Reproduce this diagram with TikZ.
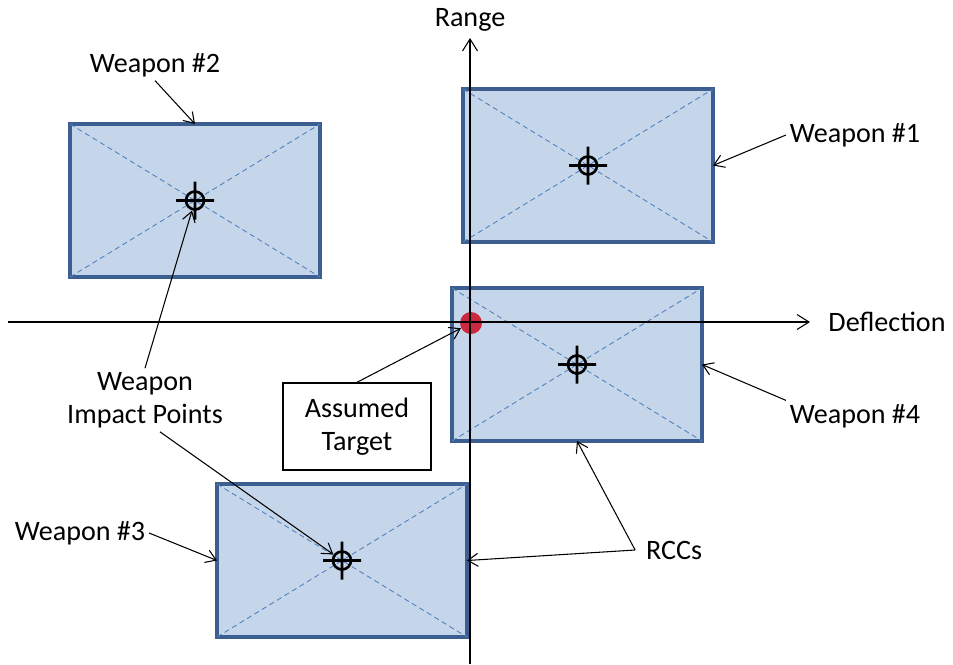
\documentclass[tikz,border=0pt]{standalone}
\usepackage{fontspec}
\setmainfont{Carlito}
\usetikzlibrary{arrows.meta, positioning}
\definecolor{rccfill}{RGB}{198,214,234}
\definecolor{rccline}{RGB}{60,94,144}
\definecolor{rccdiag}{RGB}{79,129,189}
\definecolor{tgtred}{RGB}{204,40,62}

\begin{document}
\begin{tikzpicture}[x=0.02cm, y=-0.02cm, font=\fontsize{16}{19}\selectfont,
  rcc/.style={rectangle, draw=rccline, fill=rccfill, line width=2pt, minimum width=5cm, minimum height=3.06cm, outer sep=0pt},
  diag/.style={draw=rccdiag, densely dashed, line width=0.5pt},
  xh/.style={line width=1.5pt},
  lbl/.style={align=center, inner sep=2pt},
  tbox/.style={rectangle, draw, line width=0.8pt, minimum width=2.96cm, minimum height=1.74cm, align=center},
  arr/.style={-{Straight Barb[length=2mm, width=2.6mm]}, line width=0.6pt},
  axis/.style={-{Straight Barb[length=2.4mm, width=3mm]}, line width=0.6pt}
]
\useasboundingbox (0,0) rectangle (953,664);
% the four weapon boxes
\node[rcc] (w1) at (588,165.5) {};
\node[rcc] (w2) at (195,200.5) {};
\node[rcc] (w4) at (577,364.5) {};
\node[rcc] (w3) at (342,560.5) {};
\draw[diag] (w1.north west) -- (w1.south east) (w1.south west) -- (w1.north east);
\draw[diag] (w2.north west) -- (w2.south east) (w2.south west) -- (w2.north east);
\draw[diag] (w4.north west) -- (w4.south east) (w4.south west) -- (w4.north east);
\draw[diag] (w3.north west) -- (w3.south east) (w3.south west) -- (w3.north east);
% impact points
\draw[xh] (w1.center) circle[radius=9] (w1.center) +(-19,0) -- +(19,0) (w1.center) +(0,-19) -- +(0,19);
\draw[xh] (w2.center) circle[radius=9] (w2.center) +(-19,0) -- +(19,0) (w2.center) +(0,-19) -- +(0,19);
\draw[xh] (w4.center) circle[radius=9] (w4.center) +(-19,0) -- +(19,0) (w4.center) +(0,-19) -- +(0,19);
\draw[xh] (w3.center) circle[radius=9] (w3.center) +(-19,0) -- +(19,0) (w3.center) +(0,-19) -- +(0,19);
% target
\node[circle, fill=tgtred, minimum size=0.44cm, inner sep=0pt] (tgt) at (471,323) {};
\node[tbox] (tgtbox) at (357,426.5) {Assumed\\Target};
% axes
\coordinate (xa0) at (8,322);
\coordinate (xa1) at (810,322);
\coordinate (ya0) at (470,664);
\coordinate (ya1) at (470,38);
\draw[axis] (xa0) -- (xa1);
\draw[axis] (ya0) -- (ya1);
\node[lbl] (defl) at (887,322) {Deflection};
\node[lbl] (rng) at (470,20) {Range};
% labels
\node[lbl] (lw1) at (855,135) {Weapon \#1};
\node[lbl] (lw2) at (155,65) {Weapon \#2};
\node[lbl] (lw3) at (80,533) {Weapon \#3};
\node[lbl] (lw4) at (855,416) {Weapon \#4};
\node[lbl] (imp) at (145,400) {Weapon\\Impact Points};
\node[lbl] (rccs) at (674,550) {RCCs};
\draw[arr] (lw1.west) -- (w1.east);
\draw[arr] (lw2.south) -- (w2.north);
\draw[arr] (lw3.east) -- (w3.west);
\draw[arr] (lw4.north west) -- (w4.east);
\draw[arr, shorten >=6pt] (imp.north) -- (w2.center);
\draw[arr, shorten >=6pt] ([xshift=0.3cm]imp.south) -- (w3.center);
\draw[arr] (tgtbox.north) -- (tgt);
\draw[arr] ([xshift=-4pt]rccs.west) -- (w4.south);
\draw[arr] ([xshift=-4pt]rccs.west) -- (w3.east);
\end{tikzpicture}
\end{document}
